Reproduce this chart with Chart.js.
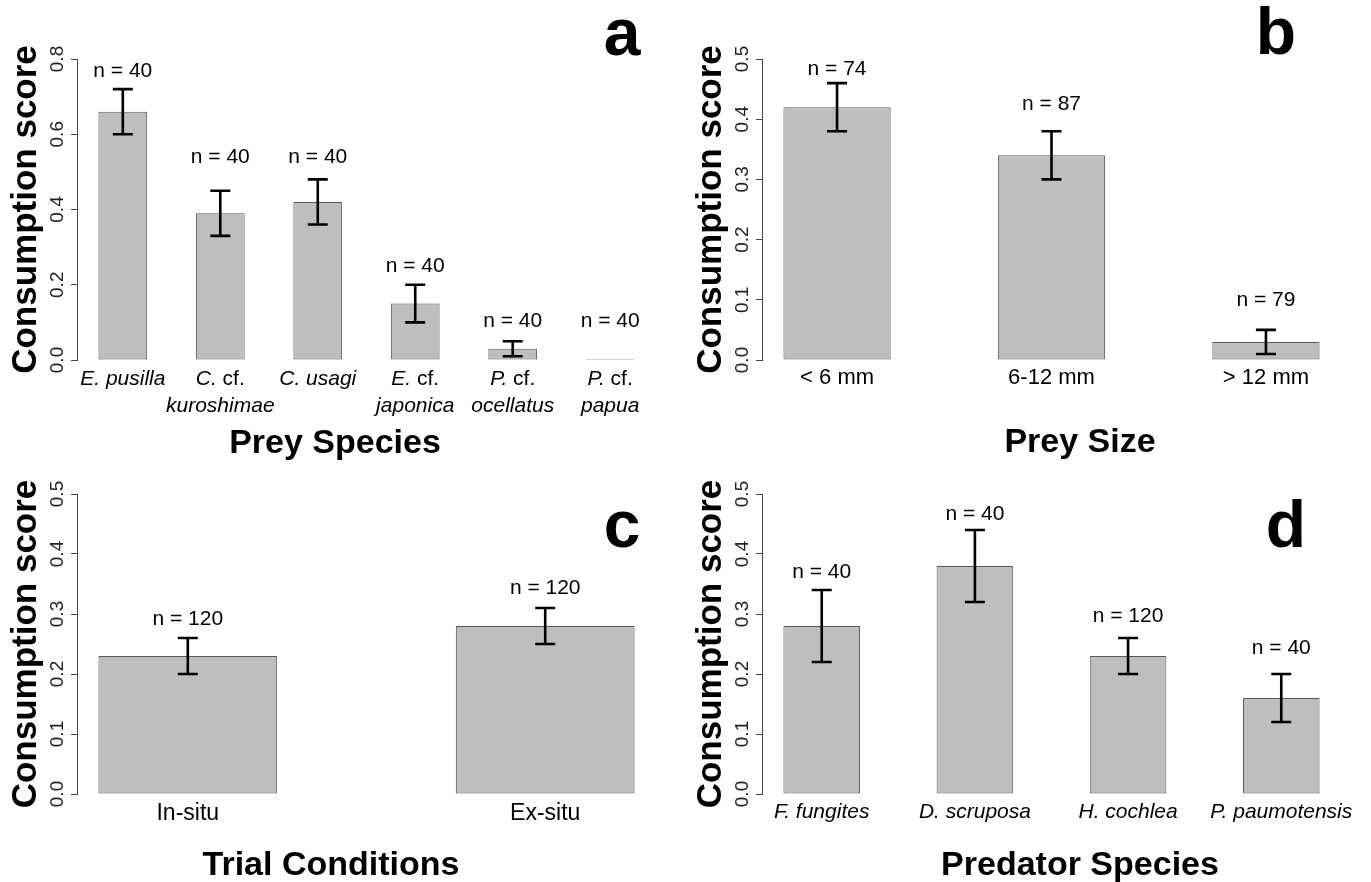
<!DOCTYPE html>
<html>
<head>
<meta charset="utf-8">
<script src="https://cdn.jsdelivr.net/npm/chart.js@4.4.1/dist/chart.umd.min.js"></script>
<style>
  html, body { margin: 0; padding: 0; background: #ffffff; }
  body { width: 1371px; height: 882px; position: relative; overflow: hidden; }
  canvas { position: absolute; }
</style>
</head>
<body>
<canvas id="panelA" width="685" height="470" style="left:0px;top:0px;"></canvas>
<canvas id="panelB" width="686" height="470" style="left:685px;top:0px;"></canvas>
<canvas id="panelC" width="685" height="412" style="left:0px;top:470px;"></canvas>
<canvas id="panelD" width="686" height="412" style="left:685px;top:470px;"></canvas>
<script>
// ---------------- DATA ----------------
// Panel a: prey species
const preySpecies = [["E. pusilla"], ["C. cf.", "kuroshimae"], ["C. usagi"], ["E. cf.", "japonica"], ["P. cf.", "ocellatus"], ["P. cf.", "papua"]];
const preyMeans   = [0.66, 0.39, 0.42, 0.15, 0.03, 0.00];
const preyLower   = [0.60, 0.33, 0.36, 0.10, 0.01, 0.00];
const preyUpper   = [0.72, 0.45, 0.48, 0.20, 0.05, 0.00];
const preyN       = [40, 40, 40, 40, 40, 40];
const preyTicks   = [0, 0.2, 0.4, 0.6, 0.8];

// Panel b: prey size
const preySizes   = [["< 6 mm"], ["6-12 mm"], ["> 12 mm"]];
const sizeMeans   = [0.42, 0.34, 0.03];
const sizeLower   = [0.38, 0.30, 0.01];
const sizeUpper   = [0.46, 0.38, 0.05];
const sizeN       = [74, 87, 79];
const sizeTicks   = [0, 0.1, 0.2, 0.3, 0.4, 0.5];

// Panel c: trial conditions
const trialConditions = [["In-situ"], ["Ex-situ"]];
const trialMeans  = [0.23, 0.28];
const trialLower  = [0.20, 0.25];
const trialUpper  = [0.26, 0.31];
const trialN      = [120, 120];
const trialTicks  = [0, 0.1, 0.2, 0.3, 0.4, 0.5];

// Panel d: predator species
const predatorSpecies = [["F. fungites"], ["D. scruposa"], ["H. cochlea"], ["P. paumotensis"]];
const predMeans   = [0.28, 0.38, 0.23, 0.16];
const predLower   = [0.22, 0.32, 0.20, 0.12];
const predUpper   = [0.34, 0.44, 0.26, 0.20];
const predN       = [40, 40, 120, 40];
const predTicks   = [0, 0.1, 0.2, 0.3, 0.4, 0.5];

// Heights (in score units) at which the "n = ..." annotations sit
const preyNAt  = [0.752, 0.523, 0.523, 0.235, 0.0885, 0.0885];
const sizeNAt  = [0.473, 0.415, 0.089];
const trialNAt = [0.282, 0.333];
const predNAt  = [0.36, 0.457, 0.287, 0.233];

// ---------------- STYLE ----------------
const FONT = '"Liberation Sans", Arial, Helvetica, sans-serif';
Chart.defaults.font.family = FONT;
Chart.defaults.color = '#000';
const CAP = 10;

function drawLabelLine(ctx, text, cx, by, size, mode) {
  const tokens = text.split(' ');
  const fontFor = t => (mode === 'species' && t !== 'cf.') ? `italic ${size}px ${FONT}` : `${size}px ${FONT}`;
  ctx.font = `${size}px ${FONT}`;
  const sp = ctx.measureText(' ').width;
  const widths = tokens.map(t => { ctx.font = fontFor(t); return ctx.measureText(t).width; });
  const total = widths.reduce((a, b) => a + b, 0) + sp * (tokens.length - 1);
  let x = cx - total / 2;
  ctx.textAlign = 'left';
  tokens.forEach((t, k) => { ctx.font = fontFor(t); ctx.fillText(t, x, by); x += widths[k] + sp; });
}

function annotations(p) {
  return {
    id: 'annot_' + p.key,
    afterDatasetsDraw(chart) {
      const ctx = chart.ctx, ys = chart.scales.y, meta = chart.getDatasetMeta(0);
      ctx.save();
      ctx.strokeStyle = '#000';
      ctx.lineWidth = 2.6;
      ctx.lineCap = 'butt';
      meta.data.forEach((bar, i) => {
        if (p.upper[i] === p.lower[i]) return;
        const yl = ys.getPixelForValue(p.lower[i]);
        const yu = ys.getPixelForValue(p.upper[i]);
        ctx.beginPath();
        ctx.moveTo(bar.x, yl); ctx.lineTo(bar.x, yu);
        ctx.moveTo(bar.x - CAP, yl); ctx.lineTo(bar.x + CAP, yl);
        ctx.moveTo(bar.x - CAP, yu); ctx.lineTo(bar.x + CAP, yu);
        ctx.stroke();
      });
      ctx.fillStyle = '#000';
      ctx.font = `21px ${FONT}`;
      ctx.textAlign = 'center';
      ctx.textBaseline = 'alphabetic';
      meta.data.forEach((bar, i) => {
        ctx.fillText('n = ' + p.n[i], bar.x, ys.getPixelForValue(p.nAt[i]));
      });
      ctx.restore();
    },
    afterDraw(chart) {
      const ctx = chart.ctx, meta = chart.getDatasetMeta(0), area = chart.chartArea;
      ctx.save();
      ctx.fillStyle = '#000';
      ctx.textBaseline = 'alphabetic';
      meta.data.forEach((bar, i) => {
        p.labels[i].forEach((line, j) => {
          drawLabelLine(ctx, line, bar.x, area.bottom + p.labelOffset + j * 27, p.labelSize, p.labelMode);
        });
      });
      ctx.textAlign = 'center';
      ctx.font = `bold 34px ${FONT}`;
      ctx.fillText(p.xTitle, p.xTitleX, p.xTitleY);
      ctx.font = `bold 66px ${FONT}`;
      ctx.fillText(p.letter, p.letterX, p.letterY);
      ctx.restore();
    }
  };
}

function makePanel(canvasId, p) {
  const count = p.means.length;
  const xs = p.means.map((_, i) => 1.5 + 2 * i);
  const pad = 0.04 * (2 * count - 1);
  return new Chart(document.getElementById(canvasId), {
    type: 'bar',
    data: {
      datasets: [{
        data: p.means.map((v, i) => ({ x: xs[i], y: v })),
        backgroundColor: '#bebebe',
        borderColor: '#5a5a5a',
        borderWidth: 1,
        borderSkipped: false,
        categoryPercentage: 1,
        barPercentage: 0.5,
        minBarLength: 1
      }]
    },
    options: {
      responsive: false,
      animation: false,
      devicePixelRatio: 1,
      layout: { padding: p.padding },
      plugins: { legend: { display: false }, tooltip: { enabled: false } },
      scales: {
        x: {
          type: 'linear',
          offset: false,
          bounds: 'data',
          min: 1 - pad,
          max: 2 * count + pad,
          display: false,
          grid: { offset: false },
          afterBuildTicks: s => { s.ticks = xs.map(v => ({ value: v })); }
        },
        y: {
          min: p.yTicks[0],
          max: p.yTicks[p.yTicks.length - 1],
          afterBuildTicks: s => { s.ticks = p.yTicks.map(v => ({ value: v })); },
          afterFit: s => { s.width = 77; },
          border: { display: true, color: '#444', width: 1 },
          grid: { display: true, drawOnChartArea: false, drawTicks: true, tickLength: 6, color: '#444', lineWidth: 1 },
          ticks: {
            minRotation: 90, maxRotation: 90, crossAlign: 'center', padding: 0,
            color: '#222', font: { size: 19 },
            callback: v => Number(v).toFixed(1)
          },
          title: {
            display: true, text: 'Consumption score', color: '#000',
            font: { size: 35, weight: 'bold' }, padding: { top: 5, bottom: 0 }
          }
        }
      }
    },
    plugins: [annotations(p)]
  });
}

makePanel('panelA', {
  key: 'a', labels: preySpecies, means: preyMeans, lower: preyLower, upper: preyUpper, n: preyN, nAt: preyNAt,
  yTicks: preyTicks, labelMode: 'species', labelSize: 21, labelOffset: 25,
  padding: { left: 0, right: 29, top: 59, bottom: 110 },
  xTitle: 'Prey Species', xTitleX: 335, xTitleY: 453, letter: 'a', letterX: 622, letterY: 55
});
makePanel('panelB', {
  key: 'b', labels: preySizes, means: sizeMeans, lower: sizeLower, upper: sizeUpper, n: sizeN, nAt: sizeNAt,
  yTicks: sizeTicks, labelMode: 'plain', labelSize: 22, labelOffset: 24,
  padding: { left: 0, right: 30, top: 59, bottom: 110 },
  xTitle: 'Prey Size', xTitleX: 395, xTitleY: 452, letter: 'b', letterX: 591, letterY: 54
});
makePanel('panelC', {
  key: 'c', labels: trialConditions, means: trialMeans, lower: trialLower, upper: trialUpper, n: trialN, nAt: trialNAt,
  yTicks: trialTicks, labelMode: 'plain', labelSize: 23, labelOffset: 26,
  padding: { left: 0, right: 29, top: 24, bottom: 88 },
  xTitle: 'Trial Conditions', xTitleX: 331, xTitleY: 405, letter: 'c', letterX: 622, letterY: 77
});
makePanel('panelD', {
  key: 'd', labels: predatorSpecies, means: predMeans, lower: predLower, upper: predUpper, n: predN, nAt: predNAt,
  yTicks: predTicks, labelMode: 'species', labelSize: 21, labelOffset: 24,
  padding: { left: 0, right: 30, top: 24, bottom: 88 },
  xTitle: 'Predator Species', xTitleX: 395, xTitleY: 405, letter: 'd', letterX: 601, letterY: 77
});
</script>
</body>
</html>
